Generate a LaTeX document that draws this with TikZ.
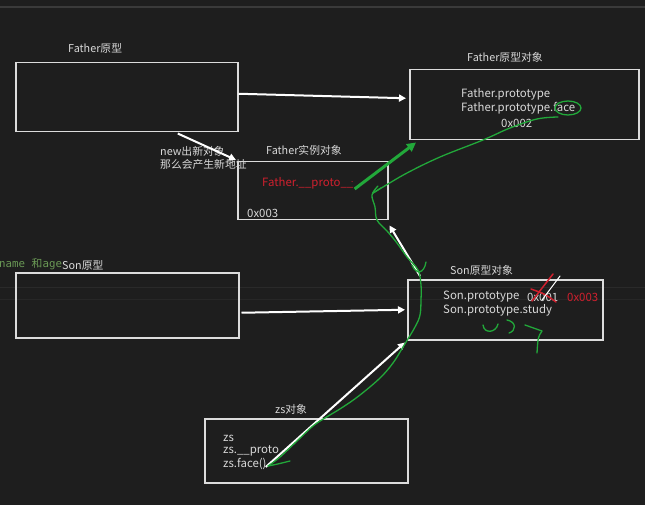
\documentclass[tikz,border=0pt]{standalone}
\usepackage{fontspec}
\setmainfont{Noto Sans CJK SC}
\newfontfamily\monofnt{DejaVu Sans Mono}
\newfontfamily\cjkfnt{Noto Sans CJK SC}
\usetikzlibrary{arrows.meta,calc}
\definecolor{bg}{HTML}{1E1E1E}
\definecolor{txt}{HTML}{D8D8D8}
\definecolor{boxc}{HTML}{DCDCDC}
\definecolor{redt}{HTML}{D0202E}
\definecolor{hand}{HTML}{22A83A}
\definecolor{cmt}{HTML}{6A9955}
\definecolor{topln}{HTML}{3A3A3A}
\definecolor{midln}{HTML}{2A2A2A}
\tikzset{
  box/.style={draw=boxc,line width=1.5pt,inner sep=0pt,anchor=north west},
  lbl/.style={text=txt,inner sep=0pt,font=\fontsize{10.8}{12}\selectfont},
  code/.style={text=txt,inner sep=0pt,anchor=west,font=\fontsize{11.4}{12}\selectfont},
  arr/.style={draw=white,line width=2pt,-{Triangle[length=7pt,width=7pt]}},
  garr/.style={draw=hand,line width=3pt,-{Triangle[length=9pt,width=9pt]}},
  pen/.style={draw=hand,line width=1.3pt,line cap=round,line join=round},
}
\begin{document}
\begin{tikzpicture}[x=1pt,y=-1pt]
\fill[bg] (0,0) rectangle (645,505);
\useasboundingbox (0,0) rectangle (645,505);
\draw[topln,line width=1.5pt] (0,7) -- (645,7);
\draw[midln,line width=0.8pt] (0,287) -- (645,287);
\draw[midln!70!bg,line width=0.8pt] (0,299) -- (645,299);

% boxes
\node[box,minimum width=222pt,minimum height=69pt] (fp) at (15,62) {};
\node[box,minimum width=229pt,minimum height=70pt] (fpo) at (409,69) {};
\node[box,minimum width=150pt,minimum height=58pt] (fi) at (237,161) {};
\node[box,minimum width=223pt,minimum height=65pt] (sp) at (15,272) {};
\node[box,minimum width=195pt,minimum height=60pt] (spo) at (407,279) {};
\node[box,minimum width=203pt,minimum height=64pt] (zs) at (204,418) {};

% titles
\node[lbl,anchor=west] (tfp) at (68,48) {Father原型};
\node[lbl,anchor=west] (tfpo) at (467,57) {Father原型对象};
\node[lbl,anchor=west] (tfi) at (266,150) {Father实例对象};
\node[lbl,anchor=west,text=cmt] (tsp1) at (-1,264) {\monofnt name \cjkfnt 和\monofnt age};
\node[lbl,anchor=west] (tsp) at (62,265) {Son原型};
\node[lbl,anchor=west] (tspo) at (450,270) {Son原型对象};
\node[lbl,anchor=west] (tzs) at (275,409) {zs对象};
\node[lbl,anchor=north west,align=left,font=\fontsize{10.8}{13}\selectfont] (tnew) at (160,146) {new出新对象\\那么会产生新地址};

% contents
\node[code] (c1) at (461,94) {Father.prototype};
\node[code] (c2) at (461,108) {Father.prototype.face};
\node[code] (c3) at (501,123) {0x002};
\node[code,text=redt] (c4) at (262,183) {Father.\_\_proto\_\_};
\node[code,text=redt,font=\fontsize{8}{10}\selectfont] (c4d) at (351,182) {.};
\node[code] (c5) at (247,213) {0x003};
\node[code] (s1) at (443,297) {Son.prototype};
\node[code] (s2) at (527,297) {0x001};
\node[code,text=redt] (s3) at (567,297) {0x003};
\node[code] (s4) at (443,310) {Son.prototype.study};
\node[code] (z1) at (223,438) {zs};
\node[code] (z2) at (223,451) {zs.\_\_proto};
\node[code] (z3) at (223,464) {zs.face()};

% white arrows
\draw[arr] ($(fp.east)+(0,-3.5)$) -- ($(fpo.west)+(-3,-6.5)$);
\draw[arr] ($(fp.south)+(51,1)$) -- ($(fi.north west)+(-1,-1)$);
\draw[arr] ($(sp.east)+(2,7.5)$) -- ($(spo.west)+(-2,0)$);
\draw[arr] ($(spo.north west)+(13,-3)$) -- ($(fi.south east)+(1,5)$);
\draw[arr] ($(z3.east)+(-1,3)$) -- ($(spo.south west)+(-2,2)$);

% green arrow
\draw[garr] ($(c4d.east)+(1,7)$) -- ($(fpo.south west)+(7,2)$);

% red cross over 0x001
\draw[redt,line width=1.5pt,line cap=round] (532,301) -- (553,274);
\draw[redt,line width=1.5pt,line cap=round] (531,289) .. controls (545,294) .. (556,302);
\draw[white,line width=1pt,line cap=round] (542,300) -- (560,276);

% handwriting
\draw[pen] (568,108) ellipse [x radius=13pt,y radius=7pt];
\draw[pen] plot[smooth,tension=0.6] coordinates {(558,117) (537,119) (510,128) (483,140) (440,157) (407,173) (383,187) (373,193)};
\draw[pen] (373,193) -- (381,188);
\draw[pen] plot[smooth,tension=0.6] coordinates {(378,186) (372,195) (375,207) (377,220) (387,231) (397,243) (407,257) (418,270) (421,285) (421,300) (420,315) (415,327) (403,347) (393,363) (380,378) (360,395) (343,407) (325,418) (313,426) (297,441) (280,457) (268,466)};
\draw[pen] (268,466) .. controls (278,464) .. (290,461);
\draw[pen] (412,265) .. controls (416,275) and (424,274) .. (426,262);
\draw[pen] (483,325) .. controls (484,334) and (496,333) .. (498,324);
\draw[pen] (507,320) .. controls (517,322) and (516,331) .. (509,333);
\draw[pen] (525,325) -- (542,331) .. controls (538,337) .. (537,353);
\end{tikzpicture}
\end{document}
